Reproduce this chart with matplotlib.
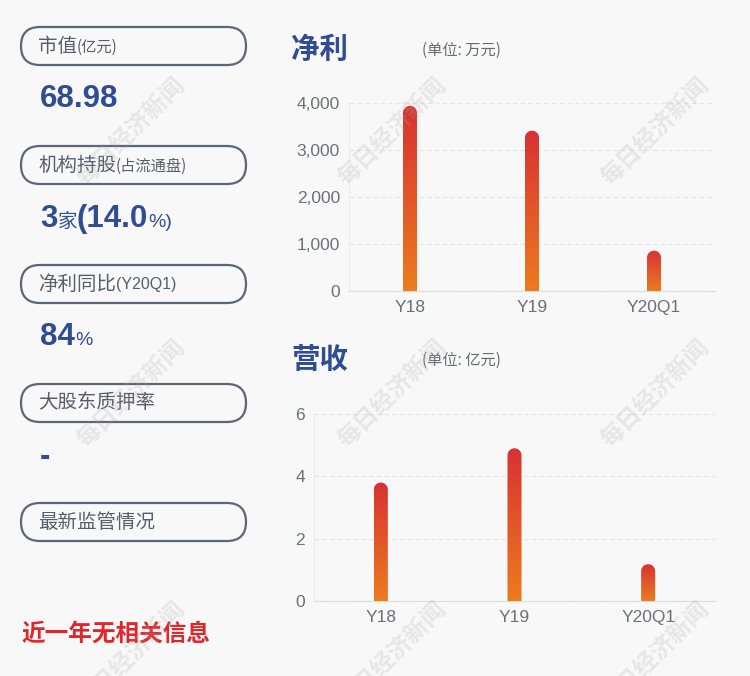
import numpy as np
import matplotlib
matplotlib.use("Agg")
import matplotlib.pyplot as plt
from matplotlib.patches import FancyBboxPatch
from matplotlib.path import Path
from matplotlib.colors import LinearSegmentedColormap
from matplotlib.ticker import FuncFormatter

# ---------------- data ----------------
categories = ["Y18", "Y19", "Y20Q1"]
net_profit = [3950, 3420, 860]        # 万元
revenue = [3.80, 4.90, 1.18]          # 亿元
profit_ticks = [0, 1000, 2000, 3000, 4000]
revenue_ticks = [0, 2, 4, 6]

panel_labels = [("市值", "(亿元)"), ("机构持股", "(占流通盘)"), ("净利同比", "(Y20Q1)"),
                ("大股东质押率", ""), ("最新监管情况", "")]
market_cap = "68.98"
inst_count = "3"
inst_pct = "14.0"
profit_yoy = "84"
pledge_ratio = "-"
reg_info = "近一年无相关信息"

# ---------------- style ----------------
BG = "#f8f8f8"
BLUE = "#2f4c95"
GRAY_TXT = "#555e6b"
TICK_C = "#6b7079"
RED_TXT = "#e0262b"
CJK = ["Noto Sans CJK SC", "DejaVu Sans"]
LAT = ["Liberation Sans", "Noto Sans CJK SC", "DejaVu Sans"]
plt.rcParams["font.family"] = CJK

W, H = 750, 676
fig = plt.figure(figsize=(W / 100, H / 100), dpi=100, facecolor=BG)

# background axes in pixel coordinates
ax0 = fig.add_axes([0, 0, 1, 1], zorder=-1)
ax0.set_xlim(0, W)
ax0.set_ylim(H, 0)
ax0.axis("off")
ax0.set_facecolor(BG)


def right_edge(t):
    fig.canvas.draw()
    bb = t.get_window_extent()
    return ax0.transData.inverted().transform((bb.x1, bb.y0))[0]


pill_centers = [46, 165, 284, 403, 522]
for (main, sub), cy in zip(panel_labels, pill_centers):
    ax0.add_patch(FancyBboxPatch((21, cy - 19), 225, 38,
                                 boxstyle="round,pad=0,rounding_size=19",
                                 fc="none", ec="#5b6676", lw=1.6))
    t = ax0.text(38, cy, main, fontsize=14, color=GRAY_TXT, va="center", ha="left", family=CJK)
    if sub:
        x1 = right_edge(t)
        fam = LAT if sub.startswith("(Y") else CJK
        ax0.text(x1, cy + 1, sub, fontsize=11.5 if fam is LAT else 11, color=GRAY_TXT,
                 va="center", ha="left", family=fam)


def seq_text(x, y, parts):
    """draw consecutive text pieces on baseline y (pixel coords)."""
    for s, size, wt in parts:
        t = ax0.text(x, y, s, fontsize=size, color=BLUE, fontweight=wt,
                     va="baseline", ha="left", family=LAT)
        x = right_edge(t)


seq_text(40, 107, [(market_cap, 22.5, "bold")])
seq_text(40, 227, [(inst_count, 22.5, "bold"), ("家", 14, "normal"), ("(" + inst_pct, 22.5, "bold"),
                   ("%)", 14, "normal")])
seq_text(40, 345, [(profit_yoy, 22.5, "bold"), ("%", 14, "normal")])
seq_text(40, 465, [(pledge_ratio, 22.5, "bold")])
ax0.text(21, 634, reg_info, fontsize=17, color=RED_TXT, fontweight="bold",
         va="center", ha="left", family=CJK)

# titles
ax0.text(291, 50, "净利", fontsize=20.5, color=BLUE, fontweight="bold", va="center", ha="left")
ax0.text(422, 50, "(单位: 万元)", fontsize=11, color="#666a72", va="center", ha="left")
ax0.text(291, 360, "营收", fontsize=20.5, color=BLUE, fontweight="bold", va="center", ha="left")
ax0.text(422, 360, "(单位: 亿元)", fontsize=11, color="#666a72", va="center", ha="left")

cmap = LinearSegmentedColormap.from_list("g", ["#ec7c1e", "#d93133"])


def bar_chart(rect, values, ticks, fmt, width):
    ax = fig.add_axes(rect)
    ax.set_facecolor("none")
    x = np.arange(len(categories))
    bars = ax.bar(x, values, width=width, color="none", zorder=3)
    ax.set_xlim(-0.5, len(categories) - 0.5)
    ax.set_ylim(ticks[0], ticks[-1])
    ax.set_xticks(x)
    ax.set_xticklabels(categories)
    ax.set_yticks(ticks)
    ax.yaxis.set_major_formatter(FuncFormatter(fmt))
    ax.tick_params(length=0, labelsize=12.5, labelcolor=TICK_C, pad=6.5)
    for lab in ax.get_xticklabels() + ax.get_yticklabels():
        lab.set_family(LAT)
    for s in ["top", "right"]:
        ax.spines[s].set_visible(False)
    ax.spines["bottom"].set_color("#dcdcdc")
    ax.spines["left"].set_color("#ececec")
    ax.spines["left"].set_linewidth(0.8)
    ax.grid(axis="y", color="#e4e4e4", ls=(0, (4, 3)), lw=0.8)
    ax.set_axisbelow(True)
    fig.canvas.draw()
    grad = np.linspace(0, 1, 256).reshape(-1, 1)
    inv = ax.transAxes.inverted()
    for b in bars:
        x0, x1 = b.get_x(), b.get_x() + b.get_width()
        y1 = b.get_height()
        px0, py0 = ax.transData.transform((x0, 0))
        px1, py1 = ax.transData.transform((x1, y1))
        r = (px1 - px0) / 2
        cx, cy = (px0 + px1) / 2, py1 - r
        th = np.linspace(np.pi, 0, 40)
        arc = np.column_stack([cx + r * np.cos(th), cy + r * np.sin(th)])
        verts = np.vstack([[px0, py0], [px0, cy], arc, [px1, cy], [px1, py0], [px0, py0]])
        path = Path(inv.transform(verts))
        im = ax.imshow(grad, extent=(x0, x1, 0, y1), origin="lower", aspect="auto",
                       cmap=cmap, zorder=3, interpolation="bilinear")
        im.set_clip_path(path, ax.transAxes)
    ax.set_xlim(-0.5, len(categories) - 0.5)
    ax.set_ylim(ticks[0], ticks[-1])
    return ax


bar_chart([349 / W, 1 - 291 / H, 366 / W, 187.5 / H], net_profit, profit_ticks,
          lambda v, p: f"{int(v):,}", 0.115)
bar_chart([314 / W, 1 - 601 / H, 401 / W, 187 / H], revenue, revenue_ticks,
          lambda v, p: f"{int(v)}", 0.105)

# watermarks
for wx in [131, 392, 655]:
    for wy in [131, 393, 655]:
        fig.text(wx / W, 1 - wy / H, "每日经济新闻", fontsize=17, fontweight="bold",
                 color="#a8a8a8", alpha=0.22, rotation=45, ha="center", va="center",
                 family=CJK, zorder=10)

fig.savefig("out.png", dpi=100, facecolor=BG)
